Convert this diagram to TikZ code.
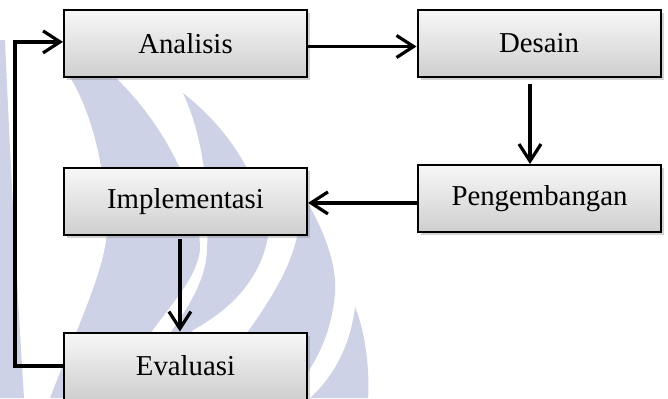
\documentclass[tikz,border=0pt]{standalone}
\usepackage{fontspec}
\setmainfont{Liberation Serif}
\usetikzlibrary{positioning}
\usetikzlibrary{arrows.meta}
\usetikzlibrary{shadows}
\definecolor{wmblue}{RGB}{206,210,230}

\tikzset{
	stage/.style={draw=black, line width=1pt, shading=axis, top color=gray!6, bottom color=gray!38,
		minimum width=121.5pt, minimum height=33.5pt, inner sep=0pt,
		font=\fontsize{14.4}{16}\selectfont,
		drop shadow={shadow xshift=1.6pt, shadow yshift=-1.6pt, opacity=0.35}},
	flowarrow/.style={line width=1.6pt, -{Straight Barb[length=8.5pt,width=11pt]}}
}

\begin{document}
\begin{tikzpicture}[x=0.5pt, y=-0.5pt]
					\useasboundingbox (0,0) rectangle (668,398);
					\clip (0,0) rectangle (668,398);

					%Watermark
					\fill[wmblue] (0,40) -- (5,40) .. controls (12,200) and (18,300) .. (24,398) -- (0,398) -- cycle;
					\fill[wmblue] (70,77) -- (115,77) .. controls (170,130) and (200,200) .. (200,250)
						.. controls (195,290) and (150,320) .. (110,398) -- (50,398)
						.. controls (80,320) and (110,260) .. (107,220) .. controls (104,160) and (90,110) .. (70,77) -- cycle;
					\fill[wmblue] (183,93) .. controls (230,130) and (262,180) .. (268,237)
						.. controls (260,280) and (230,310) .. (193,330) -- (160,398) -- (125,398)
						.. controls (160,340) and (205,300) .. (207,250) .. controls (210,180) and (200,130) .. (183,93) -- cycle;
					\fill[wmblue] (300,190) .. controls (325,230) and (337,265) .. (335,293)
						.. controls (332,330) and (318,360) .. (300,383) -- (270,398) -- (200,398)
						.. controls (240,340) and (285,290) .. (297,237) .. controls (302,220) and (302,205) .. (300,190) -- cycle;
					\fill[wmblue] (355,307) .. controls (365,330) and (370,370) .. (368,398) -- (310,398)
						.. controls (330,380) and (350,350) .. (355,307) -- cycle;

					%Nodes
					\node[stage] (analisis)      at (185.5,43.5)  {Analisis};
					\node[stage] (desain)        at (539,43.5)    {Desain};
					\node[stage] (pengembangan)  at (539.5,198.5) {Pengembangan};
					\node[stage] (implementasi)  at (185.5,201.5) {Implementasi};
					\node[stage] (evaluasi)      at (185.5,366)   {Evaluasi};
					\coordinate  (back)          at (15,366);

					%Lines
					\draw[flowarrow] ([yshift=-1.5pt]analisis.east) -- ([yshift=-1.5pt]desain.west);
					\draw[flowarrow, shorten <=3pt] ([xshift=-4.5pt]desain.south) -- ([xshift=-4.5pt]desain.south |- pengembangan.north);
					\draw[flowarrow] ([yshift=-2.2pt]pengembangan.west) -- ([yshift=-2.2pt]pengembangan.west -| implementasi.east);
					\draw[flowarrow, shorten <=1.5pt] ([xshift=-2.8pt]implementasi.south) -- ([xshift=-2.8pt]evaluasi.north);
					\draw[flowarrow] (evaluasi.west) -- (back) |- ([yshift=0.8pt]analisis.west);

				\end{tikzpicture}
\end{document}
